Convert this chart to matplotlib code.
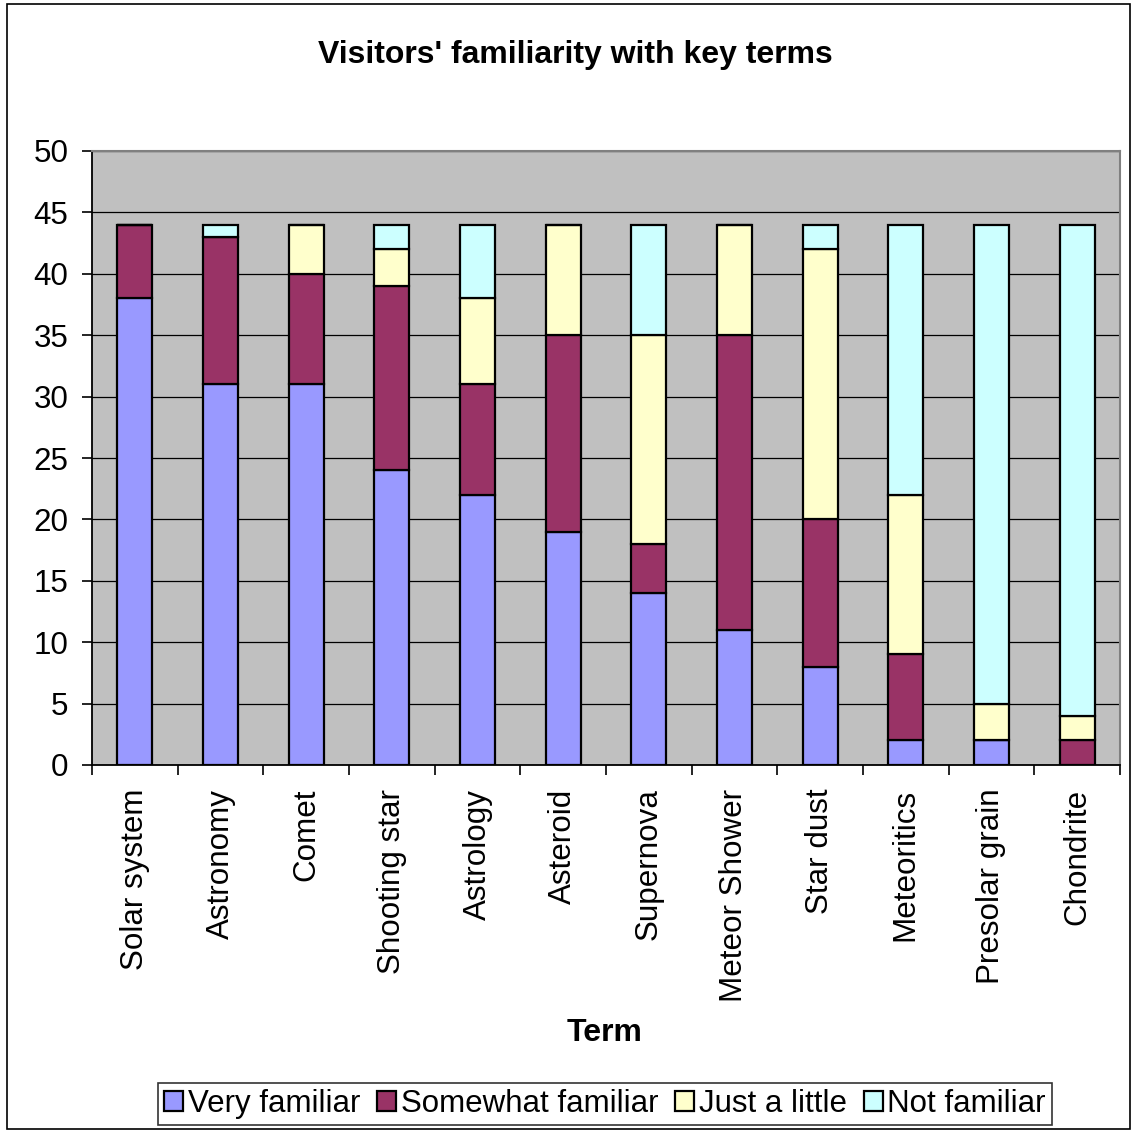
# Stacked bar chart of visitor familiarity with astronomy terms

import matplotlib.pyplot as plt
import numpy as np
from matplotlib.patches import Rectangle

plt.rcParams['font.family'] = ['Liberation Sans', 'DejaVu Sans']

terms = ['Solar system', 'Astronomy', 'Comet', 'Shooting star', 'Astrology',
         'Asteroid', 'Supernova', 'Meteor Shower', 'Star dust', 'Meteoritics',
         'Presolar grain', 'Chondrite']

very_familiar = [38, 31, 31, 24, 22, 19, 14, 11, 8, 2, 2, 0]
somewhat_familiar = [6, 12, 9, 15, 9, 16, 4, 24, 12, 7, 0, 2]
just_a_little = [0, 0, 4, 3, 7, 9, 17, 9, 22, 13, 3, 2]
not_familiar = [0, 1, 0, 2, 6, 0, 9, 0, 2, 22, 39, 40]

series = [
    ('Very familiar', very_familiar, '#9999FF'),
    ('Somewhat familiar', somewhat_familiar, '#993366'),
    ('Just a little', just_a_little, '#FFFFCC'),
    ('Not familiar', not_familiar, '#CCFFFF'),
]

W, H = 1137, 1131
fig = plt.figure(figsize=(W / 100, H / 100), dpi=100)
ax = fig.add_axes([92 / W, 1 - 765 / H, (1120 - 92) / W, (765 - 151) / H])

# outer chart border
fig.patches.append(Rectangle((7 / W, 0.002), 1 - 14 / W, 1 - 6 / H,
                             transform=fig.transFigure, fill=False,
                             edgecolor='black', linewidth=1.2))

x = np.arange(len(terms))
bottom = np.zeros(len(terms))
handles = []
for label, vals, color in series:
    vals = np.array(vals, dtype=float)
    b = ax.bar(x, vals, 0.41, bottom=bottom, color=color, edgecolor='black',
               linewidth=1.6, label=label, zorder=3)
    handles.append(b)
    bottom += vals

ax.set_facecolor('#C0C0C0')
ax.set_xlim(-0.5, len(terms) - 0.5)
ax.set_ylim(0, 50)
ax.set_yticks(range(0, 51, 5))
ax.yaxis.grid(True, color='black', linewidth=0.9, zorder=1)
ax.set_axisbelow(True)

ax.set_xticks(x)
ax.set_xticklabels(terms, rotation=90, fontsize=22.6)
ax.set_xticks(np.arange(-0.5, len(terms)), minor=True)
ax.tick_params(axis='x', which='major', length=0, pad=17)
ax.tick_params(axis='x', which='minor', length=7, width=1.2, direction='out')
ax.tick_params(axis='y', length=7, width=1.2, labelsize=22.6, pad=10)

for side in ('top', 'right'):
    ax.spines[side].set_color('#808080')
    ax.spines[side].set_linewidth(1.5)
for side in ('left', 'bottom'):
    ax.spines[side].set_color('black')
    ax.spines[side].set_linewidth(1.3)

fig.text(575 / W, 1 - 55 / H, "Visitors' familiarity with key terms",
         ha='center', va='center', fontsize=23, fontweight='bold')
fig.text(605 / W, 1 - 1033 / H, 'Term', ha='center', va='center',
         fontsize=23, fontweight='bold')

leg = fig.legend(handles=handles, loc='center', bbox_to_anchor=(605 / W, 1 - 1104 / H),
                 ncol=4, fontsize=22.5, frameon=True, fancybox=False,
                 handlelength=0.6, handleheight=0.6, handletextpad=0.15,
                 columnspacing=0.55, borderpad=0.2, borderaxespad=0)
leg.get_frame().set_edgecolor('black')
leg.get_frame().set_linewidth(1.2)

fig.savefig('out.png', dpi=100)
